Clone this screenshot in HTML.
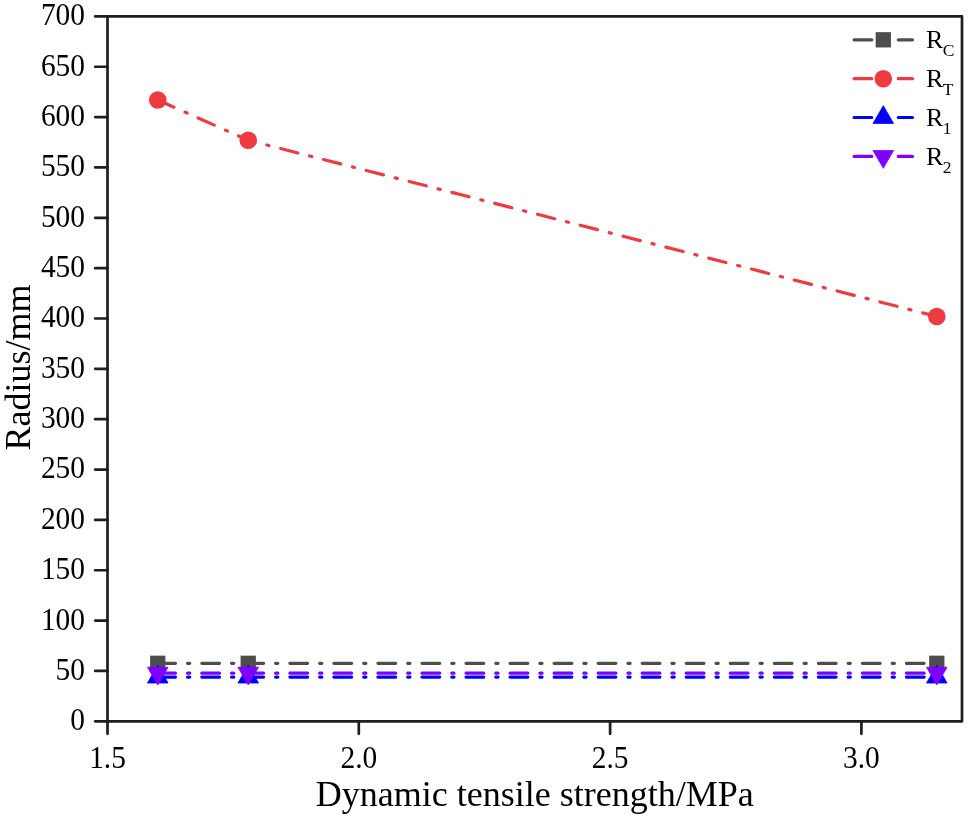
<!DOCTYPE html>
<html><head><meta charset="utf-8"><title>Radius vs dynamic tensile strength</title>
<style>
html,body{margin:0;padding:0;background:#fff;}
svg{display:block;}
text{font-family:"Liberation Serif","Times New Roman",serif;fill:#000000;}
.tk{font-size:32.5px;}
.al{font-size:36px;}
.lg{font-size:26px;}
.sub{font-size:17.5px;}
</style></head><body>
<svg width="968" height="820" viewBox="0 0 968 820">
<rect x="0" y="0" width="968" height="820" fill="#ffffff"/>
<rect x="107.5" y="16.4" width="854.5" height="704.9" fill="none" stroke="#1e1e1e" stroke-width="2.7" stroke-linejoin="round"/>
<line x1="95.2" y1="721.30" x2="107.5" y2="721.30" stroke="#1e1e1e" stroke-width="2.7" stroke-linecap="round"/>
<text class="tk" transform="translate(85,730.20) scale(0.905,1)" text-anchor="end">0</text>
<line x1="95.2" y1="670.95" x2="107.5" y2="670.95" stroke="#1e1e1e" stroke-width="2.7" stroke-linecap="round"/>
<text class="tk" transform="translate(85,679.85) scale(0.905,1)" text-anchor="end">50</text>
<line x1="95.2" y1="620.60" x2="107.5" y2="620.60" stroke="#1e1e1e" stroke-width="2.7" stroke-linecap="round"/>
<text class="tk" transform="translate(85,629.50) scale(0.905,1)" text-anchor="end">100</text>
<line x1="95.2" y1="570.25" x2="107.5" y2="570.25" stroke="#1e1e1e" stroke-width="2.7" stroke-linecap="round"/>
<text class="tk" transform="translate(85,579.15) scale(0.905,1)" text-anchor="end">150</text>
<line x1="95.2" y1="519.90" x2="107.5" y2="519.90" stroke="#1e1e1e" stroke-width="2.7" stroke-linecap="round"/>
<text class="tk" transform="translate(85,528.80) scale(0.905,1)" text-anchor="end">200</text>
<line x1="95.2" y1="469.55" x2="107.5" y2="469.55" stroke="#1e1e1e" stroke-width="2.7" stroke-linecap="round"/>
<text class="tk" transform="translate(85,478.45) scale(0.905,1)" text-anchor="end">250</text>
<line x1="95.2" y1="419.20" x2="107.5" y2="419.20" stroke="#1e1e1e" stroke-width="2.7" stroke-linecap="round"/>
<text class="tk" transform="translate(85,428.10) scale(0.905,1)" text-anchor="end">300</text>
<line x1="95.2" y1="368.85" x2="107.5" y2="368.85" stroke="#1e1e1e" stroke-width="2.7" stroke-linecap="round"/>
<text class="tk" transform="translate(85,377.75) scale(0.905,1)" text-anchor="end">350</text>
<line x1="95.2" y1="318.50" x2="107.5" y2="318.50" stroke="#1e1e1e" stroke-width="2.7" stroke-linecap="round"/>
<text class="tk" transform="translate(85,327.40) scale(0.905,1)" text-anchor="end">400</text>
<line x1="95.2" y1="268.15" x2="107.5" y2="268.15" stroke="#1e1e1e" stroke-width="2.7" stroke-linecap="round"/>
<text class="tk" transform="translate(85,277.05) scale(0.905,1)" text-anchor="end">450</text>
<line x1="95.2" y1="217.80" x2="107.5" y2="217.80" stroke="#1e1e1e" stroke-width="2.7" stroke-linecap="round"/>
<text class="tk" transform="translate(85,226.70) scale(0.905,1)" text-anchor="end">500</text>
<line x1="95.2" y1="167.45" x2="107.5" y2="167.45" stroke="#1e1e1e" stroke-width="2.7" stroke-linecap="round"/>
<text class="tk" transform="translate(85,176.35) scale(0.905,1)" text-anchor="end">550</text>
<line x1="95.2" y1="117.10" x2="107.5" y2="117.10" stroke="#1e1e1e" stroke-width="2.7" stroke-linecap="round"/>
<text class="tk" transform="translate(85,126.00) scale(0.905,1)" text-anchor="end">600</text>
<line x1="95.2" y1="66.75" x2="107.5" y2="66.75" stroke="#1e1e1e" stroke-width="2.7" stroke-linecap="round"/>
<text class="tk" transform="translate(85,75.65) scale(0.905,1)" text-anchor="end">650</text>
<line x1="95.2" y1="16.40" x2="107.5" y2="16.40" stroke="#1e1e1e" stroke-width="2.7" stroke-linecap="round"/>
<text class="tk" transform="translate(85,25.30) scale(0.905,1)" text-anchor="end">700</text>
<line x1="107.50" y1="721.3" x2="107.50" y2="733.8" stroke="#1e1e1e" stroke-width="2.7" stroke-linecap="round"/>
<text class="tk" transform="translate(107.50,767.8) scale(0.905,1)" text-anchor="middle">1.5</text>
<line x1="358.80" y1="721.3" x2="358.80" y2="733.8" stroke="#1e1e1e" stroke-width="2.7" stroke-linecap="round"/>
<text class="tk" transform="translate(358.80,767.8) scale(0.905,1)" text-anchor="middle">2.0</text>
<line x1="610.10" y1="721.3" x2="610.10" y2="733.8" stroke="#1e1e1e" stroke-width="2.7" stroke-linecap="round"/>
<text class="tk" transform="translate(610.10,767.8) scale(0.905,1)" text-anchor="middle">2.5</text>
<line x1="861.40" y1="721.3" x2="861.40" y2="733.8" stroke="#1e1e1e" stroke-width="2.7" stroke-linecap="round"/>
<text class="tk" transform="translate(861.40,767.8) scale(0.905,1)" text-anchor="middle">3.0</text>
<text class="al" x="534.8" y="806.2" text-anchor="middle">Dynamic tensile strength/MPa</text>
<text class="al" transform="translate(30,367.5) rotate(-90)" text-anchor="middle">Radius/mm</text>
<polyline points="157.76,663.30 248.23,663.30 936.79,663.30" stroke="#4d4d4d" stroke-dasharray="17.7 12.07 2.2 12.07" stroke-linecap="round" stroke-width="3.2" fill="none"/>
<rect x="150.11" y="655.65" width="15.3" height="15.3" fill="#4d4d4d"/>
<rect x="240.58" y="655.65" width="15.3" height="15.3" fill="#4d4d4d"/>
<rect x="929.14" y="655.65" width="15.3" height="15.3" fill="#4d4d4d"/>
<polyline points="157.76,99.98 248.23,140.26 936.79,316.49" stroke="#ee3b42" stroke-dasharray="17.7 12.14 2.2 12.14" stroke-linecap="round" stroke-width="3.2" fill="none"/>
<circle cx="157.76" cy="99.98" r="8.8" fill="#ee3b42"/>
<circle cx="248.23" cy="140.26" r="8.8" fill="#ee3b42"/>
<circle cx="936.79" cy="316.49" r="8.8" fill="#ee3b42"/>
<polyline points="157.76,677.09 248.23,677.09 936.79,677.09" stroke="#0000ff" stroke-dasharray="17.7 12.07 2.2 12.07" stroke-linecap="round" stroke-width="3.2" fill="none"/>
<polygon points="157.76,665.23 168.06,683.03 147.46,683.03" fill="#0000ff" stroke="#0000ff" stroke-width="0.8" stroke-linejoin="round"/>
<polygon points="248.23,665.23 258.53,683.03 237.93,683.03" fill="#0000ff" stroke="#0000ff" stroke-width="0.8" stroke-linejoin="round"/>
<polygon points="936.79,665.23 947.09,683.03 926.49,683.03" fill="#0000ff" stroke="#0000ff" stroke-width="0.8" stroke-linejoin="round"/>
<polyline points="157.76,673.17 248.23,673.17 936.79,673.17" stroke="#7f00ff" stroke-dasharray="17.7 12.07 2.2 12.07" stroke-linecap="round" stroke-width="3.2" fill="none"/>
<polygon points="157.76,685.03 168.06,667.23 147.46,667.23" fill="#7f00ff" stroke="#7f00ff" stroke-width="0.8" stroke-linejoin="round"/>
<polygon points="248.23,685.03 258.53,667.23 237.93,667.23" fill="#7f00ff" stroke="#7f00ff" stroke-width="0.8" stroke-linejoin="round"/>
<polygon points="936.79,685.03 947.09,667.23 926.49,667.23" fill="#7f00ff" stroke="#7f00ff" stroke-width="0.8" stroke-linejoin="round"/>
<line x1="854.1" y1="39.8" x2="912.5" y2="39.8" stroke="#4d4d4d" stroke-dasharray="17.7 12.14 2.2 12.14" stroke-linecap="round" stroke-width="3.2" fill="none"/>
<rect x="875.65" y="32.15" width="15.3" height="15.3" fill="#4d4d4d"/>
<text class="lg" x="926" y="48.00">R<tspan class="sub" dx="-0.7" dy="8.0">C</tspan></text>
<line x1="854.1" y1="78.7" x2="912.5" y2="78.7" stroke="#ee3b42" stroke-dasharray="17.7 12.14 2.2 12.14" stroke-linecap="round" stroke-width="3.2" fill="none"/>
<circle cx="883.30" cy="78.70" r="8.8" fill="#ee3b42"/>
<text class="lg" x="926" y="86.90">R<tspan class="sub" dx="-0.7" dy="8.0">T</tspan></text>
<line x1="854.1" y1="117.5" x2="912.5" y2="117.5" stroke="#0000ff" stroke-dasharray="17.7 12.14 2.2 12.14" stroke-linecap="round" stroke-width="3.2" fill="none"/>
<polygon points="883.30,105.63 893.60,123.43 873.00,123.43" fill="#0000ff" stroke="#0000ff" stroke-width="0.8" stroke-linejoin="round"/>
<text class="lg" x="926" y="125.70">R<tspan class="sub" dx="-0.7" dy="8.0">1</tspan></text>
<line x1="854.1" y1="156.4" x2="912.5" y2="156.4" stroke="#7f00ff" stroke-dasharray="17.7 12.14 2.2 12.14" stroke-linecap="round" stroke-width="3.2" fill="none"/>
<polygon points="883.30,168.27 893.60,150.47 873.00,150.47" fill="#7f00ff" stroke="#7f00ff" stroke-width="0.8" stroke-linejoin="round"/>
<text class="lg" x="926" y="164.60">R<tspan class="sub" dx="-0.7" dy="8.0">2</tspan></text>
</svg></body></html>
